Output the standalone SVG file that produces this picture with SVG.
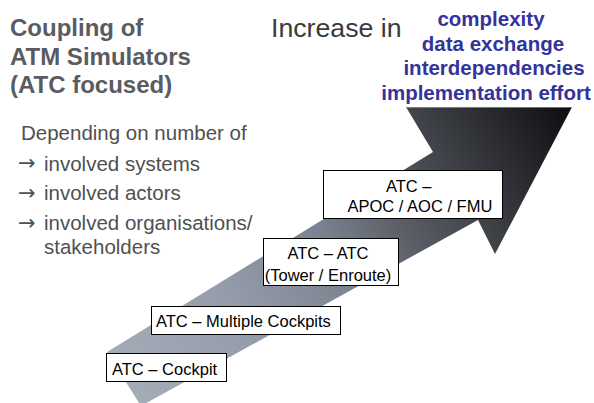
<svg xmlns="http://www.w3.org/2000/svg" width="594" height="403" viewBox="0 0 594 403">
  <style>
    .title { font-family: "Liberation Sans", Arial, sans-serif; font-weight: bold; font-size: 24px; fill: #595c61; }
    .incr { font-family: "Liberation Sans", Arial, sans-serif; font-size: 26.7px; fill: #3a3a3a; }
    .blue { font-family: "Liberation Sans", Arial, sans-serif; font-weight: bold; font-size: 20.5px; fill: #333399; text-anchor: middle; }
    .body { font-family: "Liberation Sans", Arial, sans-serif; font-size: 20.5px; fill: #505050; }
    .arr { font-family: "DejaVu Sans", sans-serif; font-size: 21px; fill: #505050; }
    .box { fill: #ffffff; stroke: #000000; stroke-width: 1; }
    .lbl { font-family: "Liberation Sans", Arial, sans-serif; font-size: 16.5px; fill: #000000; }
  </style>
  <defs>
    <linearGradient id="arrowGrad" gradientUnits="userSpaceOnUse" x1="120" y1="380" x2="572" y2="109">
      <stop offset="0" stop-color="#a4acb8"/>
      <stop offset="0.25" stop-color="#959dab"/>
      <stop offset="0.47" stop-color="#7b8390"/>
      <stop offset="0.6" stop-color="#5c6069"/>
      <stop offset="0.73" stop-color="#42454b"/>
      <stop offset="1" stop-color="#0e0e10"/>
    </linearGradient>
  </defs>

  <rect x="0" y="0" width="594" height="403" fill="#ffffff"/>

  <g id="progress-arrow">
    <polygon points="107,352 433,152 406,107 572,107 495,254 478,220 141,406" fill="url(#arrowGrad)"/>
    <line x1="406" y1="107.5" x2="572" y2="107.5" stroke="#9a9a9a" stroke-width="1" opacity="0.7"/>
  </g>

  <g id="title">
    <text class="title" x="10" y="36">Coupling of</text>
    <text class="title" x="10" y="64.5">ATM Simulators</text>
    <text class="title" x="10" y="93">(ATC focused)</text>
  </g>

  <g id="increase">
    <text class="incr" x="271" y="37.3">Increase in</text>
    <text class="blue" x="491" y="26">complexity</text>
    <text class="blue" x="493" y="50.5">data exchange</text>
    <text class="blue" x="494" y="75">interdependencies</text>
    <text class="blue" x="486" y="99.5">implementation effort</text>
  </g>

  <g id="depending">
    <text class="body" x="21" y="140">Depending on number of</text>
    <text class="arr" x="18" y="170">→</text>
    <text class="body" x="44" y="170.5">involved systems</text>
    <text class="arr" x="18" y="199.5">→</text>
    <text class="body" x="44" y="200">involved actors</text>
    <text class="arr" x="18" y="229.5">→</text>
    <text class="body" x="44" y="230">involved organisations/</text>
    <text class="body" x="44" y="253.5">stakeholders</text>
  </g>

  <g id="node-atc-cockpit">
    <rect class="box" x="106.5" y="353.5" width="120" height="28"/>
    <text class="lbl" x="112" y="375">ATC – Cockpit</text>
  </g>

  <g id="node-atc-multiple-cockpits">
    <rect class="box" x="151.5" y="306.5" width="189" height="28"/>
    <text class="lbl" x="156" y="327.3">ATC – Multiple Cockpits</text>
  </g>

  <g id="node-atc-atc">
    <rect class="box" x="263.5" y="238.5" width="135" height="47"/>
    <text class="lbl" x="328" y="259.3" text-anchor="middle">ATC – ATC</text>
    <text class="lbl" x="328" y="280.5" text-anchor="middle">(Tower / Enroute)</text>
  </g>

  <g id="node-atc-apoc">
    <rect class="box" x="323.5" y="170.5" width="179" height="48"/>
    <text class="lbl" x="386" y="191.5">ATC –</text>
    <text class="lbl" x="347.5" y="211.5">APOC / AOC / FMU</text>
  </g>
</svg>
